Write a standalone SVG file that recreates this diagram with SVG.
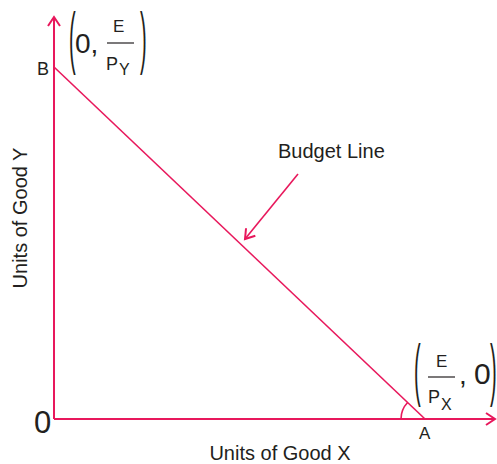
<svg xmlns="http://www.w3.org/2000/svg" width="497" height="464" viewBox="0 0 497 464">
<defs>
<style>
.ax{stroke:#e8185c;stroke-width:2;fill:none}
.ln{stroke:#e8185c;stroke-width:1.6;fill:none}
.t{font-family:"Liberation Sans",Arial,sans-serif;fill:#231f20}
.par{font-family:"Liberation Sans",Arial,sans-serif;fill:#231f20;font-size:20px}
</style>
<marker id="ah" markerWidth="14" markerHeight="14" refX="10" refY="7" orient="auto" markerUnits="userSpaceOnUse">
<path d="M1,1 L10,7 L1,13" fill="none" stroke="#e8185c" stroke-width="2"/>
</marker>
</defs>
<rect width="497" height="464" fill="#fff"/>
<g id="connectors">
<line class="ax" x1="54" y1="419" x2="54" y2="17" marker-end="url(#ah)"/>
<line class="ax" x1="54" y1="419" x2="495" y2="419" marker-end="url(#ah)"/>
<line id="budget-line" class="ln" x1="54" y1="67" x2="425" y2="419"/>
<line class="ln" x1="298" y1="174" x2="245" y2="239" marker-end="url(#ah)"/>
<path class="ln" d="M401,419 A24,24 0 0 1 407.6,402.5"/>
</g>
<g id="origin"><text class="t" x="34" y="433" font-size="31">0</text></g>
<g id="B">
<text class="t" x="37" y="75" font-size="18">B</text>
<text class="par" transform="translate(69 61) scale(1 3.4)">(</text>
<text class="t" x="75" y="53" font-size="28">0,</text>
<text class="t" x="113" y="32" font-size="17">E</text>
<line x1="107" y1="43" x2="134" y2="43" stroke="#231f20" stroke-width="1.2"/>
<text class="t" x="106" y="70" font-size="18">P</text>
<text class="t" x="119" y="75" font-size="16">Y</text>
<text class="par" transform="translate(140 61) scale(1 3.4)">)</text>
</g>
<g id="A">
<text class="t" x="419" y="439" font-size="17">A</text>
<text class="par" transform="translate(414 393) scale(1 3.4)">(</text>
<text class="t" x="436" y="367" font-size="17">E</text>
<line x1="428" y1="377" x2="455" y2="377" stroke="#231f20" stroke-width="1.2"/>
<text class="t" x="428" y="403" font-size="18">P</text>
<text class="t" x="441" y="410" font-size="16">X</text>
<text class="t" x="459" y="384" font-size="28">,</text>
<text class="t" x="474" y="384" font-size="30">0</text>
<text class="par" transform="translate(490 393) scale(1 3.4)">)</text>
</g>
<g id="labels">
<text class="t" x="278" y="158" font-size="20">Budget Line</text>
<text class="t" x="280" y="460" font-size="20" text-anchor="middle">Units of Good X</text>
<text class="t" font-size="20" text-anchor="middle" transform="translate(27 218) rotate(-90)">Units of Good Y</text>
</g>
</svg>
